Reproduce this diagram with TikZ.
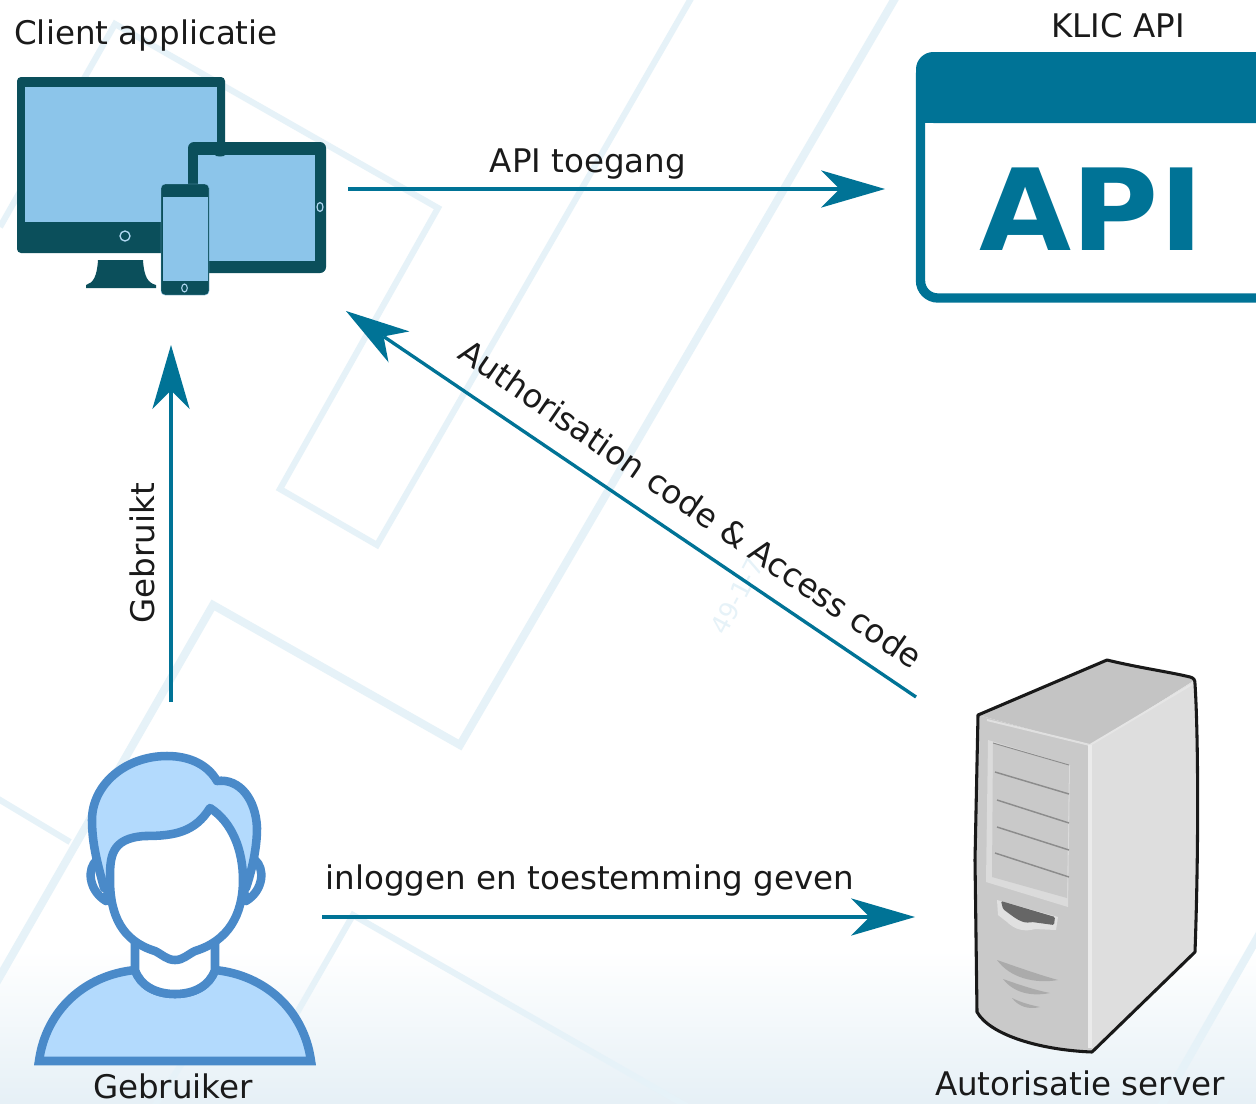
\documentclass[tikz,border=0pt]{standalone}
\usepackage{fontspec}
\setmainfont{DejaVu Sans}
\usetikzlibrary{arrows.meta}
\definecolor{teal1}{HTML}{007396}
\definecolor{bgline}{HTML}{E6F2F8}
\definecolor{devdark}{HTML}{0B4F5B}
\definecolor{devscreen}{HTML}{8CC5EA}
\definecolor{pstroke}{HTML}{4A8AC9}
\definecolor{pfill}{HTML}{B3DAFD}
\definecolor{labelc}{HTML}{1A1A1A}
\tikzset{
  bgpat/.style={draw=bgline,line width=4.6pt,miter limit=10,line join=miter},
  bgwide/.style={bgpat,line width=6pt},
  flow/.style={draw=teal1,line width=2.5pt,-{Stealth[length=48pt,width=28pt,inset=14pt,line width=0pt]}},
  lab/.style={inner sep=0pt,text=labelc,anchor=base,font=\fontsize{24.4}{28}\selectfont},
  dev/.style={fill=devdark,draw=none},
  scr/.style={fill=devscreen,draw=none},
  ring/.style={draw=devscreen!70!white,line width=0.8pt,fill=none},
  per/.style={draw=pstroke,line width=6.4pt,line join=round},
  srvline/.style={draw=black!45,line width=1.1pt},
}
\begin{document}
\begin{tikzpicture}[x=0.75pt,y=-0.75pt]
\useasboundingbox (0,0) rectangle (1256,1103);
\begin{scope}
\clip (0,0) rectangle (1256,1103);
% background
\fill[white] (0,0) rectangle (1256,1103);
\shade[top color=white,bottom color={rgb,255:red,230;green,240;blue,246}] (0,950) rectangle (1256,1103);
\draw[bgpat] (0,227) -- (115,24) -- (438,208) -- (280,489) -- (377,545) -- (693,-5);
\draw[bgwide] (897,-5) -- (460,745) -- (213,605) -- (-5,985);
\draw[bgpat] (-5,797) -- (70,842);
\draw[bgpat] (270,1060) -- (353,915) -- (690,1108);
\draw[bgpat] (152,1110) -- (197,1040);
\draw[bgwide] (1260,933) -- (1160,1108);
\node[inner sep=0pt,rotate=62,text=bgline,font=\fontsize{19}{22}\selectfont] (wm) at (737,596) {49-1-7};

% API window
\draw[teal1,line width=7pt,fill=white,rounded corners=13pt] (920.5,57) rectangle (1290,298);
\fill[teal1,rounded corners=13pt] (916,52) -- (1290,52) -- (1290,123) -- (916,123) -- cycle;
\fill[teal1] (916,90) rectangle (1290,123);
\node[inner sep=0pt,anchor=base,xscale=1.05,text=teal1,font=\fontsize{85}{90}\bfseries\selectfont] (apitext) at (1091.5,250) {API};

% devices
\fill[dev,rounded corners=3pt] (17,77) rectangle (225,253);
\fill[scr] (25,87) rectangle (217,222);
\draw[ring,line width=1pt] (125,236) circle (5);
\fill[dev] (98,260) -- (143,260) .. controls (144,277) and (148,283) .. (156,285) -- (156,288) -- (86,288) -- (86,285) .. controls (93,283) and (97,277) .. (98,260) -- cycle;
\fill[dev,rounded corners=4.5pt] (188,142) rectangle (326,273);
\fill[scr] (198,155) rectangle (315,261);
\fill[dev] (220,155) ellipse (5 and 1.5);
\draw[ring,line width=.9pt] (320,207) ellipse (3 and 4.5);
\filldraw[dev,draw=devscreen,line width=.3pt,rounded corners=3pt] (161,184) rectangle (209,295);
\fill[scr] (162.5,197) rectangle (207.5,281);
\draw[ring,line width=.8pt] (184.5,288) ellipse (2.8 and 4);

% person
\begin{scope}
\filldraw[per,fill=white] (97,860) .. controls (87,868) and (88,890) .. (106,901) -- (112,870) -- cycle;
\filldraw[per,fill=white] (255,860) .. controls (265,868) and (264,890) .. (246,901) -- (240,870) -- cycle;
\filldraw[per,fill=pfill] (104,888) .. controls (98,865) and (92,845) .. (92,820) .. controls (92,785) and (125,756) .. (167,756) .. controls (190,756) and (208,765) .. (217,781) .. controls (240,778) and (256,800) .. (257,828) .. controls (257,848) and (252,870) .. (246,888) -- cycle;
\filldraw[per,fill=pfill,line join=miter] (39,1061) .. controls (46,1010) and (85,975) .. (135,970) .. controls (140,985) and (155,994) .. (175,994) .. controls (195,994) and (210,985) .. (215,970) .. controls (265,975) and (304,1010) .. (311,1061) -- cycle;
\filldraw[per,fill=white] (135,935) -- (135,970) .. controls (140,985) and (155,994) .. (175,994) .. controls (195,994) and (210,985) .. (215,970) -- (215,935) -- cycle;
\filldraw[per,fill=white] (110,880) .. controls (110,858) and (110,838) .. (145,836) .. controls (175,836) and (195,832) .. (210,808) .. controls (232,822) and (243,850) .. (243,880) .. controls (243,915) and (228,941) .. (195,951) .. controls (187,955) and (183,960) .. (175,960) .. controls (167,960) and (163,955) .. (155,951) .. controls (122,941) and (110,915) .. (110,880) -- cycle;
\end{scope}

% server
\fill[black!23] (978,715) -- (1107,660) .. controls (1140,668) and (1170,672) .. (1195,680) -- (1090,746) -- cycle;
\fill[black!21] (978,715) -- (1090,746) -- (1092,1052) .. controls (1040,1050) and (990,1035) .. (977,1012) -- (975,860) -- cycle;
\fill[black!13] (1090,746) -- (1195,680) .. controls (1198,730) and (1199,840) .. (1195,952) -- (1092,1052) -- cycle;
\draw[white!88!black,line width=1.5pt] (987,720) -- (1090,745);
\draw[white!90!black,line width=1.5pt] (1090,745) -- (1194,683);
\draw[white!92!black,line width=2.5pt] (1090,745) -- (1090,1048);
\fill[black!14] (988,740) -- (1070,765) -- (1068,907) -- (986,882) -- cycle;
\fill[black!21] (993,743) -- (1069,765) -- (1067,898) -- (992,877) -- cycle;
\draw[srvline,line width=.7pt] (993,743) -- (1069,765);
\draw[srvline] (995,772) -- (1069,794);
\draw[srvline] (997,800) -- (1069,823);
\draw[srvline] (997,827) -- (1069,850);
\draw[srvline] (995,853) -- (1069,877);
\fill[black!12] (997,900) -- (1058,917) -- (1056,930) -- (1035,929) .. controls (1025,932) and (1015,930) .. (1007,922) -- (998,915) -- cycle;
\fill[black!60,rounded corners=1pt] (1001,901) -- (1055,917) -- (1054,925) -- (1032,922) .. controls (1022,924) and (1015,918) .. (1003,909) -- cycle;
\fill[black!33] (997,960) .. controls (1020,968) and (1040,975) .. (1058,980) .. controls (1035,984) and (1010,978) .. (997,960) -- cycle;
\fill[black!33] (1003,979) .. controls (1020,985) and (1035,990) .. (1050,993) .. controls (1030,997) and (1013,992) .. (1003,979) -- cycle;
\fill[black!33] (1012,998) .. controls (1020,1002) and (1030,1005) .. (1040,1007) .. controls (1028,1010) and (1018,1006) .. (1012,998) -- cycle;
\draw[black!90,line width=2.3pt,line join=round] (978,715) -- (1107,660) .. controls (1140,668) and (1170,672) .. (1190,677) .. controls (1194,678) and (1195,680) .. (1195,684) .. controls (1198,730) and (1199,840) .. (1195,952) -- (1092,1052) .. controls (1040,1050) and (990,1035) .. (977,1012) -- (975,860) -- cycle;
\end{scope}

% connector ends
\coordinate (clientOut) at (348,189);
\coordinate (apiIn) at (885,189);
\coordinate (serverOut) at (916,697);
\coordinate (clientIn) at (346,311);
\coordinate (userUp) at (171,702);
\coordinate (clientDown) at (171,345);
\coordinate (userOut) at (322,917);
\coordinate (serverIn) at (915,917);
\draw[flow] (clientOut) -- (apiIn);
\draw[flow] (serverOut) -- (clientIn);
\draw[flow] (userUp) -- (clientDown);
\draw[flow] (userOut) -- (serverIn);

% labels
\node[lab,anchor=base west] (lclient) at (14,44) {Client applicatie};
\node[lab] (lklic) at (1118,37) {KLIC API};
\node[lab] (ltoegang) at (588,172) {API toegang};
\node[lab] (linlog) at (590,889) {inloggen en toestemming geven};
\node[lab] (lgebr) at (173,1098) {Gebruiker};
\node[lab] (lserver) at (1080,1095) {Autorisatie server};
\node[lab,rotate=90] (lgebruikt) at (154,553) {Gebruikt};
\node[lab,rotate=-34.5,anchor=base west] (lauth) at (456,357) {Authorisation code \& Access code};
\end{tikzpicture}
\end{document}
